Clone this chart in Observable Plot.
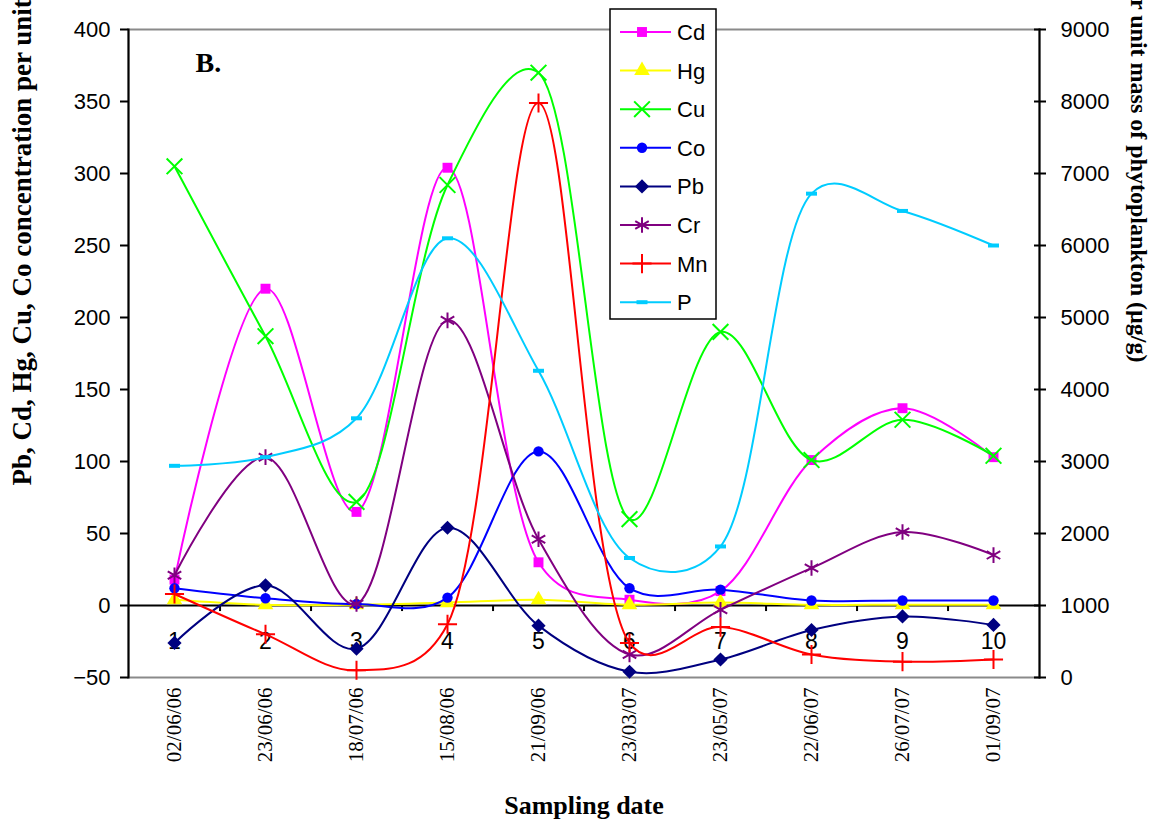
<!DOCTYPE html>
<html>
<head>
<meta charset="utf-8">
<script src="https://cdn.jsdelivr.net/npm/d3@7"></script>
<script src="https://cdn.jsdelivr.net/npm/@observablehq/plot@0.6"></script>
<style>
  html, body { margin: 0; padding: 0; background: white; }
  #chart { width: 1164px; height: 832px; }
</style>
</head>
<body>
<div id="chart"></div>
<script>
// ---- Data ----
const dates = ["02/06/06", "23/06/06", "18/07/06", "15/08/06", "21/09/06",
               "23/03/07", "23/05/07", "22/06/07", "26/07/07", "01/09/07"];
const catNums = ["1", "2", "3", "4", "5", "6", "7", "8", "9", "10"];
const leftTicks = [-50, 0, 50, 100, 150, 200, 250, 300, 350, 400];
const rightTicks = [0, 1000, 2000, 3000, 4000, 5000, 6000, 7000, 8000, 9000];
const leftDomain = [-50, 400];
const rightDomain = [0, 9000];

// left-axis series
const cd = [18, 220, 65, 304, 30, 4, 10, 101, 137, 103];
const hg = [4, 0.5, 0.5, 2, 4, 0.5, 2, 0.5, 0.5, 0.5];
const cu = [305, 187, 72, 292, 370, 60, 190, 101, 129, 104];
const co = [12, 5, 1, 5.5, 107, 12, 11, 3.5, 3.5, 3.5];
const pb = [-26, 14, -30, 54, -14, -46, -37.5, -17, -7.6, -13.5];
// right-axis series (µg/g)
const cr = [1420, 3060, 1020, 4960, 1920, 320, 940, 1520, 2020, 1700];
const mn = [1160, 600, 100, 740, 7980, 480, 700, 320, 220, 250];
const pP = [2940, 3060, 3600, 6100, 4260, 1660, 1820, 6720, 6480, 6000];

const seriesNames = ["Cd", "Hg", "Cu", "Co", "Pb", "Cr", "Mn", "P"];

// ---- Styles ----
const dash = { draw(ctx, size) { ctx.rect(-5.5, -2, 11, 4); } };
const styles = {
  Cd: { values: cd, axis: "left",  color: "#FF00FF", symbol: "square",    r: 5.6, filled: true },
  Hg: { values: hg, axis: "left",  color: "#FFFF00", symbol: "triangle",  r: 5.8, filled: true },
  Cu: { values: cu, axis: "left",  color: "#00FF00", symbol: "times",     r: 7.2, filled: false },
  Co: { values: co, axis: "left",  color: "#0000FF", symbol: "circle",    r: 5.2, filled: true },
  Pb: { values: pb, axis: "left",  color: "#000080", symbol: "diamond2",  r: 6.4, filled: true },
  Cr: { values: cr, axis: "right", color: "#800080", symbol: "asterisk",  r: 7.4, filled: false },
  Mn: { values: mn, axis: "right", color: "#FF0000", symbol: "plus",      r: 6.2, filled: false },
  P:  { values: pP, axis: "right", color: "#00CCFF", symbol: dash,        r: 5,   filled: true }
};

const toLeft = v => leftDomain[0] + (v - rightDomain[0]) * (leftDomain[1] - leftDomain[0]) / (rightDomain[1] - rightDomain[0]);
const toRight = v => rightDomain[0] + (v - leftDomain[0]) * (rightDomain[1] - rightDomain[0]) / (leftDomain[1] - leftDomain[0]);

const W = 1164, H = 832;
const mL = 128, mR = 125, mT = 29, mB = 155;
const step = (W - mL - mR) / dates.length;

const marks = [];
marks.push(Plot.frame({ stroke: "#8a8a8a", strokeWidth: 2 }));
marks.push(Plot.ruleY([0], { stroke: "black", strokeWidth: 2 }));
marks.push(Plot.ruleX(dates.slice(0, dates.length - 1), { x: d => d, y1: 0, y2: -4.2, dx: step / 2, stroke: "black", strokeWidth: 2 }));
marks.push(Plot.text(dates, { x: d => d, y: 0, text: (d, i) => catNums[i], dy: 36, fontSize: 23, fill: "black", fontFamily: "Liberation Sans, Arial, sans-serif" }));

for (const name of seriesNames) {
  const s = styles[name];
  const rows = dates.map((d, i) => ({ date: d, y: s.axis === "right" ? toLeft(s.values[i]) : s.values[i] }));
  marks.push(Plot.line(rows, { x: "date", y: "y", stroke: s.color, strokeWidth: 2, curve: "catmull-rom", tension: 0.3 }));
  marks.push(Plot.dot(rows, s.filled
    ? { x: "date", y: "y", symbol: s.symbol, r: s.r, fill: s.color, stroke: "none" }
    : { x: "date", y: "y", symbol: s.symbol, r: s.r, fill: "none", stroke: s.color, strokeWidth: 2 }));
}

marks.push(Plot.frame({ anchor: "left", stroke: "black", strokeWidth: 2 }));
marks.push(Plot.frame({ anchor: "right", stroke: "black", strokeWidth: 2 }));

marks.push(Plot.axisY({ anchor: "left", ticks: leftTicks, tickSize: 8, tickPadding: 10, strokeWidth: 2,
  fontSize: 22, fill: "black", label: null, fontFamily: "Liberation Sans, Arial, sans-serif" }));
marks.push(Plot.axisY({ anchor: "right", ticks: rightTicks.map(toLeft), tickFormat: d => String(Math.round(toRight(d))),
  tickSize: 12, dx: -6, tickPadding: 15, strokeWidth: 2, fontSize: 22, fill: "black", label: null,
  fontFamily: "Liberation Sans, Arial, sans-serif" }));
marks.push(Plot.axisX({ anchor: "bottom", tickSize: 0, tickRotate: -90, tickPadding: 10, fontSize: 21, fill: "black",
  label: null, fontFamily: "Liberation Serif, Times New Roman, serif" }));

// axis titles
marks.push(Plot.text(["Pb, Cd, Hg, Cu, Co concentration per unit mass of phytoplankton (\u00b5g/g)"], {
  frameAnchor: "left", rotate: -90, textAnchor: "start", dx: 22 - mL, dy: 485 - (mT + (H - mB)) / 2,
  fontSize: 27, fontWeight: "bold", fill: "black", fontFamily: "Liberation Serif, Times New Roman, serif" }));
marks.push(Plot.text(["Mn, Cr, P concentration per unit mass of phytoplankton (\u00b5g/g)"], {
  frameAnchor: "right", rotate: 90, textAnchor: "end", dx: 1138 - (W - mR), dy: 362 - (mT + (H - mB)) / 2,
  fontSize: 24, fontWeight: "bold", fill: "black", fontFamily: "Liberation Serif, Times New Roman, serif" }));
marks.push(Plot.text(["Sampling date"], {
  frameAnchor: "bottom", dy: 136, fontSize: 26, fontWeight: "bold", fill: "black",
  fontFamily: "Liberation Serif, Times New Roman, serif" }));
marks.push(Plot.text(["B."], {
  frameAnchor: "top-left", textAnchor: "start", dx: 195 - mL, dy: 52 - mT, fontSize: 28, fontWeight: "bold", fill: "black",
  fontFamily: "Liberation Serif, Times New Roman, serif" }));

const chart = Plot.plot({
  width: W, height: H,
  marginLeft: mL, marginRight: mR, marginTop: mT, marginBottom: mB,
  x: { type: "point", domain: dates, padding: 0.5 },
  y: { domain: leftDomain },
  style: { background: "white", color: "black", fontFamily: "Liberation Sans, Arial, sans-serif", overflow: "visible" },
  marks
});
document.getElementById("chart").appendChild(chart);

// ---- Legend ----
const svg = d3.select(chart);
const lg = svg.append("g").attr("class", "legend").attr("text-anchor", "start");
lg.append("rect").attr("x", 610).attr("y", 9).attr("width", 106).attr("height", 310)
  .attr("fill", "white").attr("stroke", "black").attr("stroke-width", 1.5);
const symMap = { square: d3.symbolSquare, triangle: d3.symbolTriangle, times: d3.symbolTimes, circle: d3.symbolCircle,
  diamond2: d3.symbolDiamond2, asterisk: d3.symbolAsterisk, plus: d3.symbolPlus };
seriesNames.forEach((name, i) => {
  const s = styles[name];
  const cy = 32 + i * 38.6;
  const g = lg.append("g");
  g.append("line").attr("x1", 620).attr("x2", 671).attr("y1", cy).attr("y2", cy).attr("stroke", s.color).attr("stroke-width", 2);
  const symType = typeof s.symbol === "string" ? symMap[s.symbol] : s.symbol;
  const path = d3.symbol(symType, Math.PI * s.r * s.r)();
  const p = g.append("path").attr("d", path).attr("transform", `translate(642,${cy})`);
  if (s.filled) p.attr("fill", s.color); else p.attr("fill", "none").attr("stroke", s.color).attr("stroke-width", 2);
  g.append("text").attr("x", 677).attr("y", cy).attr("dy", "0.36em").attr("font-size", 22)
    .attr("text-anchor", "start")
    .attr("font-family", "Liberation Sans, Arial, sans-serif").attr("fill", "black").text(name);
});
</script>
</body>
</html>
